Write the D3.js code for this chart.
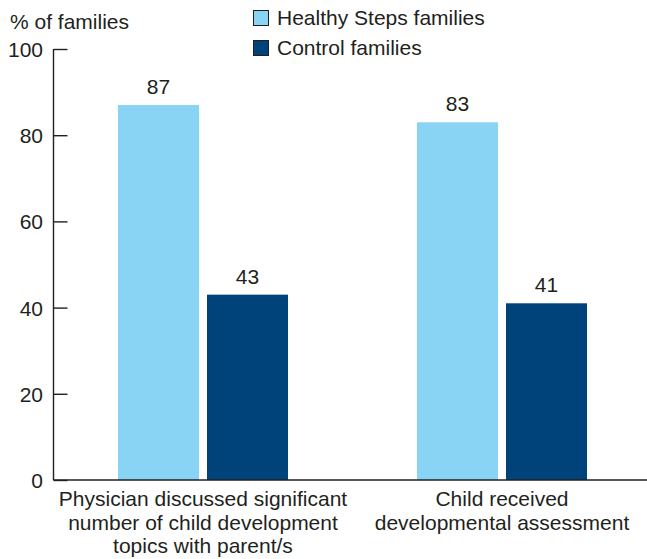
<!DOCTYPE html>
<html>
<head>
<meta charset="utf-8">
<script src="https://cdn.jsdelivr.net/npm/d3@7"></script>
<style>
  html, body { margin: 0; padding: 0; background: #fff; }
  svg text { font-family: "Liberation Sans", Arial, sans-serif; fill: #231f20; font-size: 21px; }
</style>
</head>
<body>
<svg id="chart" width="647" height="559"></svg>
<script>
// Share of families, by outcome
const categories = [
  ["Physician discussed significant", "number of child development", "topics with parent/s"],
  ["Child received", "developmental assessment"]
];
const seriesNames = ["Healthy Steps families", "Control families"];
const healthySteps = [87, 83];
const control = [43, 41];
const yTicks = [0, 20, 40, 60, 80, 100];
const colors = ["#89d4f5", "#00427a"];

const svg = d3.select("#chart");
const axisX = 53.5;
const ink = "#231f20";

const y = d3.scaleLinear().domain([0, 100]).range([480, 49]);
// one band per category, bars placed at the start of each band
const x0 = d3.scaleBand().domain(d3.range(categories.length)).range([118, 716]);
const x1 = d3.scaleBand().domain(d3.range(seriesNames.length)).range([0, 170]).paddingInner(8 / 89);
const series = [healthySteps, control];

categories.forEach((c, i) => {
  series.forEach((vals, s) => {
    const bx = x0(i) + x1(s);
    svg.append("rect")
      .attr("x", bx)
      .attr("y", y(vals[i]))
      .attr("width", x1.bandwidth())
      .attr("height", y(0) - y(vals[i]))
      .attr("fill", colors[s]);
    svg.append("text")
      .attr("x", bx + x1.bandwidth() / 2)
      .attr("y", y(vals[i]) - 11)
      .attr("text-anchor", "middle")
      .text(vals[i]);
  });
});

// y axis: ticks point into the plot
const yAxis = d3.axisRight(y).tickValues(yTicks).tickSize(14).tickFormat("");
const ga = svg.append("g").attr("transform", `translate(${axisX},0)`).call(yAxis);
ga.select(".domain").remove();
ga.selectAll("line").attr("stroke", ink).attr("stroke-width", 1.4);
svg.append("line").attr("x1", axisX).attr("x2", axisX).attr("y1", y(100)).attr("y2", y(0))
  .attr("stroke", ink).attr("stroke-width", 1.4);
svg.append("line").attr("x1", axisX).attr("x2", 647).attr("y1", y(0)).attr("y2", y(0))
  .attr("stroke", ink).attr("stroke-width", 1.4);

yTicks.forEach(t => {
  svg.append("text")
    .attr("x", 43)
    .attr("y", y(t) + 8)
    .attr("text-anchor", "end")
    .text(t);
});

svg.append("text").attr("x", 10).attr("y", 29).text("% of families");

// category labels under each group
categories.forEach((lines, i) => {
  const cx = x0(i) + 85;
  lines.forEach((ln, k) => {
    svg.append("text")
      .attr("x", cx)
      .attr("y", 506 + k * 23.5)
      .attr("text-anchor", "middle")
      .text(ln);
  });
});

// legend
seriesNames.forEach((n, s) => {
  svg.append("rect").attr("x", 253.5).attr("y", 10.5 + s * 30).attr("width", 15).attr("height", 15)
    .attr("fill", colors[s]).attr("stroke", ink).attr("stroke-width", 1);
  svg.append("text").attr("x", 277).attr("y", 25 + s * 30).text(n);
});
</script>
</body>
</html>
